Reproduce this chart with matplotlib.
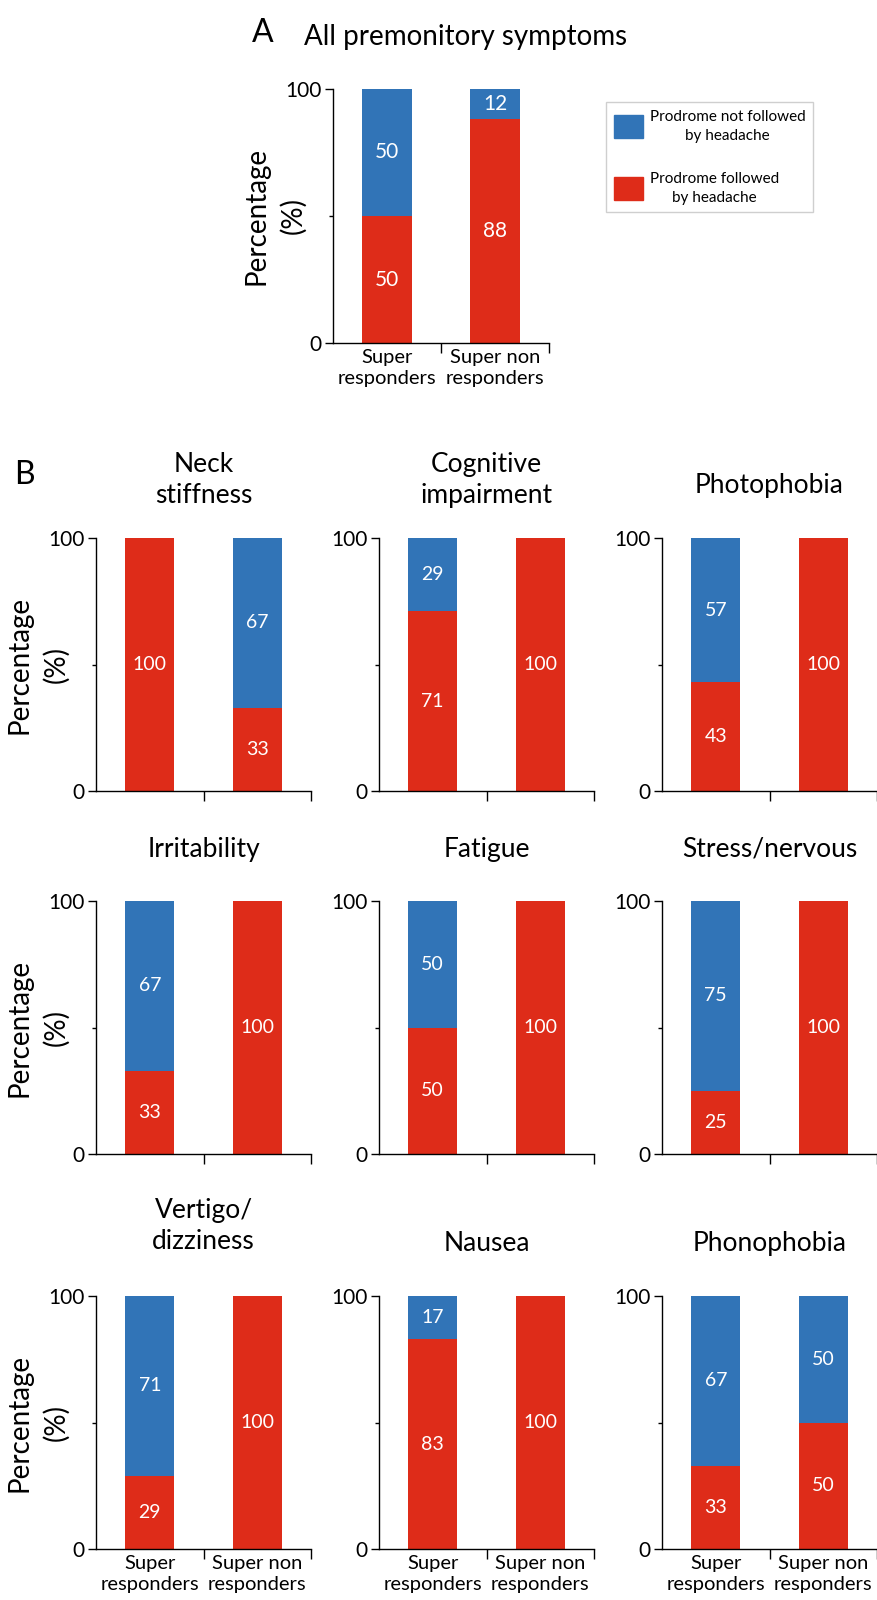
"""Prodrome follow-up by responder group: stacked percentage bars (panels A and B)."""

import matplotlib

matplotlib.use("Agg")
import matplotlib.pyplot as plt
from matplotlib.patches import Patch
from matplotlib.ticker import FixedLocator, NullFormatter

plt.rcParams["font.family"] = ["Lato", "DejaVu Sans"]

BLUE = "#3174b7"
RED = "#de2c19"

GROUPS = ["Super\nresponders", "Super non\nresponders"]
LEGEND_LABELS = ["Prodrome not followed\nby headache", "Prodrome followed\nby headache"]

# Panel A: all premonitory symptoms
ALL_FOLLOWED = [50, 88]
ALL_NOT_FOLLOWED = [50, 12]

# Panel B: one entry per symptom
SYMPTOMS = [
    "Neck\nstiffness",
    "Cognitive\nimpairment",
    "Photophobia",
    "Irritability",
    "Fatigue",
    "Stress/nervous",
    "Vertigo/\ndizziness",
    "Nausea",
    "Phonophobia",
]
FOLLOWED_SR = [100, 71, 43, 33, 50, 25, 29, 83, 33]
FOLLOWED_SNR = [33, 100, 100, 100, 100, 100, 100, 100, 50]
NOT_FOLLOWED_SR = [0, 29, 57, 67, 50, 75, 71, 17, 67]
NOT_FOLLOWED_SNR = [67, 0, 0, 0, 0, 0, 0, 0, 50]

W, H, DPI = 877, 1600, 100
PT = 72 / DPI  # points per pixel

fig = plt.figure(figsize=(W / DPI, H / DPI), dpi=DPI)


def px_axes(left, top, width, height):
    return fig.add_axes([left / W, 1 - (top + height) / H, width / W, height / H])


def draw_stack(ax, followed, not_followed, value_size, show_xlabels, show_ylabel):
    x = list(range(len(GROUPS)))
    ax.bar(x, followed, width=0.46, color=RED, linewidth=0)
    ax.bar(x, not_followed, width=0.46, bottom=followed, color=BLUE, linewidth=0)
    for xi, low, high in zip(x, followed, not_followed):
        for base, value in ((0, low), (low, high)):
            if value > 0:
                ax.text(xi, base + value / 2, str(value), color="white",
                        fontsize=value_size, ha="center", va="center")

    ax.set_xlim(-0.5, 1.5)
    ax.set_ylim(0, 100)
    for side in ("top", "right"):
        ax.spines[side].set_visible(False)
    for side in ("left", "bottom"):
        ax.spines[side].set_linewidth(1.0)

    ax.set_yticks([0, 100])
    ax.yaxis.set_minor_locator(FixedLocator([50]))
    ax.yaxis.set_minor_formatter(NullFormatter())
    ax.tick_params(axis="y", which="major", length=6, width=1.0, labelsize=15, pad=2)
    ax.tick_params(axis="y", which="minor", length=3, width=1.0)

    ax.set_xticks(x)
    ax.set_xticklabels(GROUPS if show_xlabels else ["", ""], fontsize=14.5, linespacing=1.35)
    ax.xaxis.set_minor_locator(FixedLocator([0.5, 1.5]))
    ax.tick_params(axis="x", which="major", length=0, pad=4)
    ax.tick_params(axis="x", which="minor", length=7.5, width=1.0)

    if show_ylabel:
        ax.set_ylabel("Percentage\n(%)", fontsize=20, linespacing=1.45)
        ax.yaxis.set_label_coords(-0.125, 0.5)


# Panel A
ax_a = px_axes(333, 89, 216, 254)
draw_stack(ax_a, ALL_FOLLOWED, ALL_NOT_FOLLOWED, 15, True, True)
fig.text(252 / W, 1 - 42 / H, "A", fontsize=23, va="baseline", ha="left")
fig.text(304 / W, 1 - 45 / H, "All premonitory symptoms", fontsize=20, va="baseline", ha="left")

legend = fig.legend(
    [Patch(color=BLUE), Patch(color=RED)],
    LEGEND_LABELS,
    loc="upper left",
    bbox_to_anchor=(606 / W, 1 - 102 / H),
    frameon=True,
    fancybox=False,
    edgecolor="#c4c4c4",
    fontsize=11,
    handlelength=1.9,
    handleheight=1.95,
    labelspacing=1.9,
    borderpad=0.5,
    handletextpad=0.45,
    borderaxespad=0,
)
legend.get_frame().set_linewidth(1.0)
for text in legend.get_texts():
    text.set_multialignment("center")
    text.set_linespacing(1.45)

# Panel B
fig.text(14 / W, 1 - 484 / H, "B", fontsize=23, va="baseline", ha="left")

col_left = [96, 379, 662]
row_top = [538, 901, 1296]
title_gap_px = [35, 35, 45, 44, 44, 44, 47, 45, 45]

for i, name in enumerate(SYMPTOMS):
    row, col = divmod(i, 3)
    ax = px_axes(col_left[col], row_top[row], 215, 253)
    draw_stack(
        ax,
        [FOLLOWED_SR[i], FOLLOWED_SNR[i]],
        [NOT_FOLLOWED_SR[i], NOT_FOLLOWED_SNR[i]],
        14,
        show_xlabels=(row == 2),
        show_ylabel=(col == 0),
    )
    ax.set_title(name, fontsize=19, pad=title_gap_px[i] * PT, linespacing=1.3)

fig.savefig("out.png", dpi=DPI)
